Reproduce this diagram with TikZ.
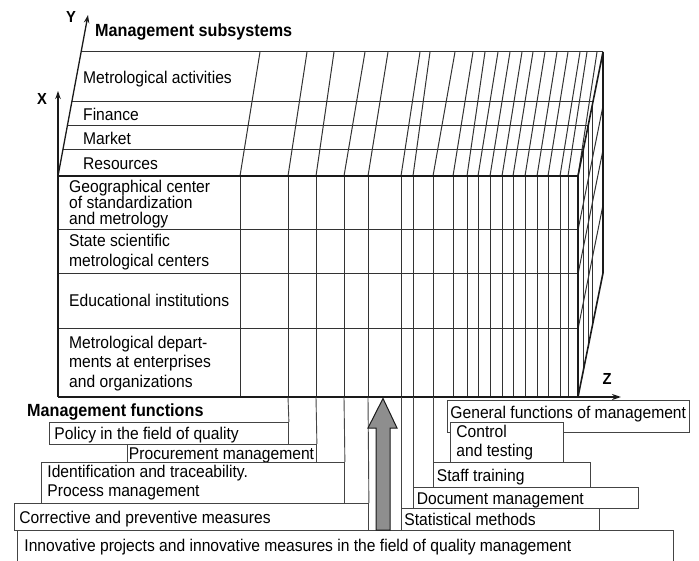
\documentclass[tikz,border=0pt]{standalone}
\usepackage{fontspec}
\setmainfont{Liberation Sans}[FakeStretch=0.92]
\usetikzlibrary{arrows.meta}
\definecolor{gridc}{HTML}{333333}
\definecolor{edgec}{HTML}{1A1A1A}
\definecolor{boxc}{HTML}{444444}
\definecolor{arrowfill}{HTML}{8E8E8E}
% keep the font's own interword space inside aligned boxes
\newcommand\normsp{\spaceskip=0pt\xspaceskip=0pt\relax}
\begin{document}
\begin{tikzpicture}[x=1pt,y=-1pt,
  grid/.style={draw=gridc,line width=1pt},
  thickedge/.style={draw=edgec,line width=2.2pt},
  sideedge/.style={draw=edgec,line width=1.6pt},
  axisarrow/.style={draw=edgec,line width=1.3pt,-{Stealth[length=8pt,width=5.5pt]}},
  lbl/.style={anchor=west,inner sep=0pt,text height=12.2pt,text depth=0pt,font=\fontsize{17}{19.5}\selectfont},
  mlbl/.style={anchor=west,inner sep=0pt,align=left},
  headlbl/.style={anchor=west,inner sep=0pt,text height=12.6pt,text depth=0pt,font=\bfseries\fontsize{17.6}{20}\selectfont},
  axlbl/.style={inner sep=0pt,font=\bfseries\fontsize{16}{18}\selectfont},
  fbox/.style={draw=boxc,fill=white,line width=0.9pt,anchor=north west,align=left,inner ysep=0pt,font=\fontsize{17}{19}\selectfont},
  one/.style={text height=12.2pt,text depth=0pt},
  link/.style={draw=boxc,line width=0.9pt},
]
\useasboundingbox (0,0) rectangle (699,561);

% corners of the block
\coordinate (FTL) at (58,176);
\coordinate (FTR) at (578,176);
\coordinate (FBR) at (578,397);
\coordinate (FBL) at (58,397);
\coordinate (BTL) at (81,52);
\coordinate (BTR) at (603,52);
\coordinate (BBR) at (603,273);

% top face: depth lines of the columns
\foreach \xf/\xb in {240/260,288/307,316/334,344/365,368/388,401/420,413/430,433/455,
  453/473,467/485,478/498,490/510,502/522,513/533,525/545,537/557,548/568,560/580,568/587,578/597}
  \draw[grid] (\xf,176) -- (\xb,52);
% top face: subsystem rows
\foreach \yy in {102,126,150}
  \draw[grid] ({58+23*(176-\yy)/124},\yy) -- ({578+25*(176-\yy)/124},\yy);
\draw[grid] (BTL) -- (BTR);

% front face: columns and rows
\foreach \xf in {240,288,316,344,368,401,413,433,453,467,478,490,502,513,525,537,548,560,568}
  \draw[grid] (\xf,176) -- (\xf,397);
\foreach \yy in {230,274,329}
  \draw[grid] (58,\yy) -- (578,\yy);

% side face
\foreach \yy in {102,126,150}
  \draw[grid] ({578+25*(176-\yy)/124},\yy) -- ({578+25*(176-\yy)/124},{\yy+221});
\foreach \yy in {230,274,329}
  \draw[grid] (578,\yy) -- (603,{\yy-124});

% outline of the block
\draw[thickedge] (FBL) -- (FTL) -- (FTR) -- (FBR);
\draw[sideedge] (FTR) -- (BTR) -- (BBR) -- (FBR);

% axes
\coordinate (xtip) at (58,91);
\coordinate (ytip) at (88,15);
\coordinate (ztip) at (621,397);
\draw[axisarrow] (FTL) -- (xtip);
\draw[axisarrow] (FTL) -- (ytip);
\draw[thickedge,-{Stealth[length=9pt,width=6pt]}] (FBL) -- (ztip);
\node[axlbl] (xl) at (42,99) {X};
\node[axlbl] (yl) at (71,17) {Y};
\node[axlbl] (zl) at (607,379) {Z};

% headings
\node[headlbl] (subsys) at (95,30) {Management subsystems};
\node[headlbl] (funcs) at (27,410) {Management functions};

% subsystem labels on the top face
\node[lbl] (metact) at (83,77) {Metrological activities};
\node[lbl] (finance) at (83,114) {Finance};
\node[lbl] (market) at (83,138) {Market};
\node[lbl] (resources) at (83,163) {Resources};

% organisation labels on the front face
\node[mlbl,font=\fontsize{17}{16}\selectfont] (geo) at (69,204.6)
  {Geographical center\\of standardization\\and metrology};
\node[mlbl,font=\fontsize{17}{20}\selectfont] (state) at (69,252.6)
  {State scientific\\metrological centers};
\node[lbl] (edu) at (69,300) {Educational institutions};
\node[mlbl,font=\fontsize{17}{19.5}\selectfont] (metdep) at (69,363.3)
  {Metrological depart-\\ments at enterprises\\and organizations};

% function boxes
\node[fbox,one,inner xsep=3pt,text width=236pt,minimum height=32pt,text depth=8pt] (genf) at (447,400)
  {\normsp\mbox{General functions of management}};
\node[fbox,inner xsep=6pt,text width=101pt,minimum height=40pt] (ctrl) at (450,422)
  {\normsp Control\\and testing};
\node[fbox,one,inner xsep=3.5pt,text width=150pt,minimum height=25pt] (staff) at (433,462)
  {\normsp Staff training};
\node[fbox,one,inner xsep=3.5pt,text width=218pt,minimum height=21pt] (docm) at (413,487)
  {\normsp Document management};
\node[fbox,one,inner xsep=3pt,text width=192pt,minimum height=22pt] (stat) at (401,508)
  {\normsp Statistical methods};
\node[fbox,one,inner xsep=5pt,text width=229pt,minimum height=22pt] (policy) at (49,422)
  {\normsp Policy in the field of quality};
\node[fbox,one,inner xsep=1.5pt,text width=186pt,minimum height=18pt] (proc) at (127,444)
  {\normsp\mbox{Procurement management}};
\node[fbox,inner xsep=6pt,text width=291pt,minimum height=41pt] (ident) at (41,462)
  {\normsp Identification and traceability.\\Process management};
\node[fbox,one,inner xsep=5pt,text width=344pt,minimum height=27pt] (corr) at (14,503)
  {\normsp Corrective and preventive measures};
\node[fbox,one,inner xsep=7pt,text width=642pt,minimum height=33pt,text depth=3pt] (innov) at (17,530)
  {\normsp Innovative projects and innovative measures in the field of quality management};

% columns running down to their function boxes
\coordinate (c288) at (288,397);
\coordinate (c316) at (316,397);
\coordinate (c344) at (344,397);
\coordinate (c368) at (368,397);
\coordinate (c401) at (401,397);
\coordinate (c413) at (413,397);
\coordinate (c433) at (433,397);
\draw[link] (c288) -- (policy.north east);
\draw[link] (c316) -- (proc.north east);
\draw[link] (c344) -- (ident.north east);
\draw[link] (c368) -- (corr.north east);
\draw[link] (c401) -- (stat.north west);
\draw[link] (c413) -- (docm.north west);
\draw[link] (c433) -- (staff.north west);

% block arrow from the innovation box up to the function axis
\draw[draw=edgec,line width=1pt,fill=arrowfill]
  (376,530) -- (376,428) -- (368,428) -- (383,398.5) -- (397,428) -- (390,428) -- (390,530) -- cycle;
\end{tikzpicture}
\end{document}
